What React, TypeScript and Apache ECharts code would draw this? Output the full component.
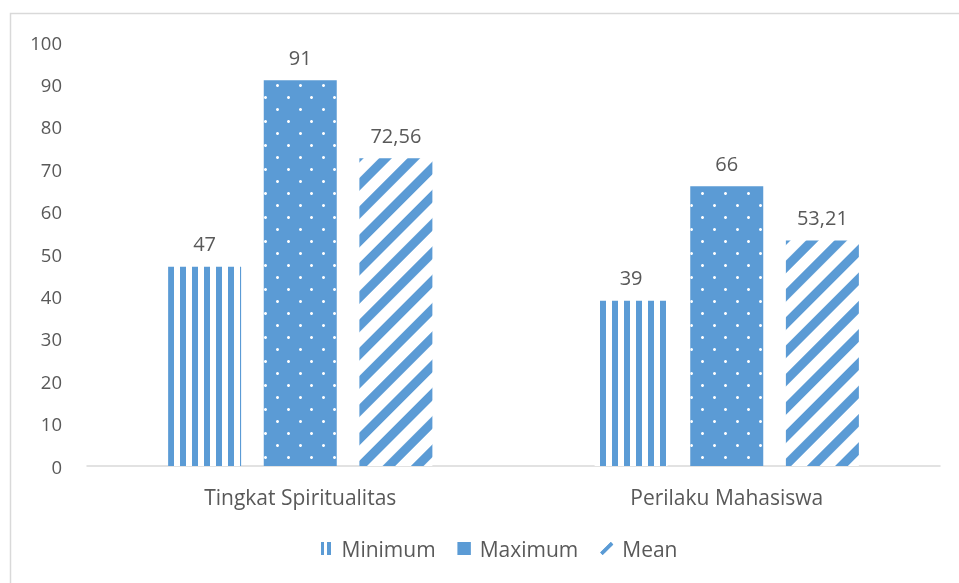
import React, { useEffect, useRef } from "react";
import * as echarts from "echarts";

const categories = ["Tingkat Spiritualitas", "Perilaku Mahasiswa"];
const seriesNames = ["Minimum", "Maximum", "Mean"];
const minimumValues = [47, 39];
const maximumValues = [91, 66];
const meanValues = [72.56, 53.21];
const yTicks = { min: 0, max: 100, interval: 10 };

const BLUE = "#5b9bd5";
const TEXT = "#595959";
const FONT = "'Open Sans', 'DejaVu Sans', sans-serif";

const fmt = (v: number) => (Number.isInteger(v) ? String(v) : v.toFixed(2).replace(".", ","));

const legendIcons = [
  "path://M0,0 L3,0 L3,13 L0,13 Z M6,0 L10,0 L10,13 L6,13 Z",
  "rect",
  "path://M0,10.6 L10.6,0 L13,2.4 L2.4,13 Z",
];

export default function App() {
  const ref = useRef<HTMLDivElement>(null);
  useEffect(() => {
    if (!ref.current) return;
    const chart = echarts.init(ref.current, null, { renderer: "svg" });
    const label = {
      show: true,
      position: "top" as const,
      distance: 13,
      color: TEXT,
      fontSize: 20,
      fontFamily: FONT,
      formatter: (p: any) => fmt(p.value),
    };
    const decals = [
      {
        symbol: "rect",
        symbolSize: 1,
        color: BLUE,
        backgroundColor: "#ffffff",
        dashArrayX: [5.5, 5.2],
        dashArrayY: [10, 0],
      },
      {
        symbol: "circle",
        symbolSize: 1,
        color: "#ffffff",
        dashArrayX: [
          [2.4, 19.1],
          [0, 10.75, 2.4, 8.35],
        ],
        dashArrayY: [2.4, 8.6],
      },
      {
        symbol: "rect",
        symbolSize: 1,
        color: BLUE,
        backgroundColor: "#ffffff",
        dashArrayX: [8.5, 11],
        dashArrayY: [10, 0],
        rotation: Math.PI / 4,
      },
    ];
    const solidDecal = {
      symbol: "rect",
      symbolSize: 1,
      color: BLUE,
      backgroundColor: BLUE,
      dashArrayX: [4, 0],
      dashArrayY: [4, 0],
    };
    const values = [minimumValues, maximumValues, meanValues];
    chart.setOption({
      animation: false,
      aria: { enabled: false, decal: { show: false } },
      textStyle: { fontFamily: FONT },
      graphic: [
        {
          type: "rect",
          shape: { x: 10.5, y: 13.5, width: 1000, height: 1000 },
          style: { fill: "none", stroke: "#d9d9d9", lineWidth: 1.5 },
          silent: true,
        },
      ],
      grid: { left: 87, right: 19, top: 42, bottom: 117 },
      legend: {
        bottom: 19,
        left: 316,
        itemWidth: 13,
        itemHeight: 13,
        itemGap: 22,
        textStyle: { color: TEXT, fontSize: 21, fontFamily: FONT, padding: [0, 0, 0, 4] },
        data: seriesNames.map((name, i) => ({
          name,
          icon: legendIcons[i],
          itemStyle: { color: BLUE, decal: solidDecal },
        })),
      },
      xAxis: {
        type: "category",
        data: categories,
        axisLine: { lineStyle: { color: "#d9d9d9", width: 1.5 } },
        axisTick: { show: false },
        axisLabel: { color: TEXT, fontSize: 21, fontFamily: FONT, margin: 20 },
      },
      yAxis: {
        type: "value",
        min: yTicks.min,
        max: yTicks.max,
        interval: yTicks.interval,
        splitLine: { show: false },
        axisLine: { show: false },
        axisTick: { show: false },
        axisLabel: { color: TEXT, fontSize: 18.5, fontFamily: FONT, margin: 25 },
      },
      series: seriesNames.map((name, i) => ({
        name,
        type: "bar",
        data: values[i],
        barWidth: 73,
        barGap: "31%",
        label,
        itemStyle: {
          color: i === 1 ? BLUE : "#ffffff",
          decal: decals[i],
        },
      })),
    });
    return () => chart.dispose();
  }, []);
  return (
    <div
      ref={ref}
      style={{ position: "fixed", left: 0, top: 0, width: 959, height: 583 }}
    />
  );
}
